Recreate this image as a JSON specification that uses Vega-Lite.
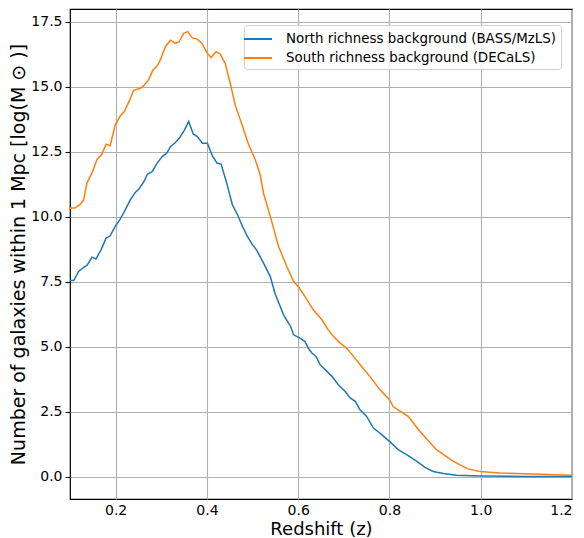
{
  "$schema": "https://vega.github.io/schema/vega-lite/v6.json",
  "autosize": "none",
  "width": 502,
  "height": 490,
  "padding": {"left": 70, "top": 9, "right": 12, "bottom": 39},
  "config": {
    "font": "DejaVu Sans",
    "view": {"stroke": "black", "strokeWidth": 1.2},
    "axis": {
      "grid": true,
      "gridColor": "#b0b0b0",
      "gridWidth": 1.1,
      "domain": false,
      "tickColor": "black",
      "tickSize": 5,
      "tickWidth": 1.1,
      "labelFontSize": 14,
      "labelColor": "black",
      "titleFontSize": 18,
      "titleFontWeight": "normal",
      "titleColor": "black",
      "labelPadding": 3
    }
  },
  "data": {
    "values": [
      {"series": "North richness background (BASS/MzLS)", "z": 0.100, "n": 7.55},
      {"series": "North richness background (BASS/MzLS)", "z": 0.108, "n": 7.55},
      {"series": "North richness background (BASS/MzLS)", "z": 0.119, "n": 7.90},
      {"series": "North richness background (BASS/MzLS)", "z": 0.130, "n": 8.06},
      {"series": "North richness background (BASS/MzLS)", "z": 0.138, "n": 8.15},
      {"series": "North richness background (BASS/MzLS)", "z": 0.148, "n": 8.45},
      {"series": "North richness background (BASS/MzLS)", "z": 0.157, "n": 8.38},
      {"series": "North richness background (BASS/MzLS)", "z": 0.168, "n": 8.73},
      {"series": "North richness background (BASS/MzLS)", "z": 0.179, "n": 9.18},
      {"series": "North richness background (BASS/MzLS)", "z": 0.188, "n": 9.27},
      {"series": "North richness background (BASS/MzLS)", "z": 0.199, "n": 9.63},
      {"series": "North richness background (BASS/MzLS)", "z": 0.210, "n": 9.91},
      {"series": "North richness background (BASS/MzLS)", "z": 0.221, "n": 10.27},
      {"series": "North richness background (BASS/MzLS)", "z": 0.232, "n": 10.65},
      {"series": "North richness background (BASS/MzLS)", "z": 0.243, "n": 10.94},
      {"series": "North richness background (BASS/MzLS)", "z": 0.251, "n": 11.07},
      {"series": "North richness background (BASS/MzLS)", "z": 0.262, "n": 11.36},
      {"series": "North richness background (BASS/MzLS)", "z": 0.270, "n": 11.65},
      {"series": "North richness background (BASS/MzLS)", "z": 0.280, "n": 11.74},
      {"series": "North richness background (BASS/MzLS)", "z": 0.291, "n": 12.07},
      {"series": "North richness background (BASS/MzLS)", "z": 0.302, "n": 12.32},
      {"series": "North richness background (BASS/MzLS)", "z": 0.312, "n": 12.45},
      {"series": "North richness background (BASS/MzLS)", "z": 0.320, "n": 12.70},
      {"series": "North richness background (BASS/MzLS)", "z": 0.331, "n": 12.86},
      {"series": "North richness background (BASS/MzLS)", "z": 0.341, "n": 13.06},
      {"series": "North richness background (BASS/MzLS)", "z": 0.351, "n": 13.35},
      {"series": "North richness background (BASS/MzLS)", "z": 0.360, "n": 13.67},
      {"series": "North richness background (BASS/MzLS)", "z": 0.370, "n": 13.19},
      {"series": "North richness background (BASS/MzLS)", "z": 0.379, "n": 13.09},
      {"series": "North richness background (BASS/MzLS)", "z": 0.390, "n": 12.83},
      {"series": "North richness background (BASS/MzLS)", "z": 0.401, "n": 12.83},
      {"series": "North richness background (BASS/MzLS)", "z": 0.412, "n": 12.35},
      {"series": "North richness background (BASS/MzLS)", "z": 0.422, "n": 12.07},
      {"series": "North richness background (BASS/MzLS)", "z": 0.431, "n": 12.03},
      {"series": "North richness background (BASS/MzLS)", "z": 0.441, "n": 11.45},
      {"series": "North richness background (BASS/MzLS)", "z": 0.456, "n": 10.46},
      {"series": "North richness background (BASS/MzLS)", "z": 0.467, "n": 10.08},
      {"series": "North richness background (BASS/MzLS)", "z": 0.478, "n": 9.63},
      {"series": "North richness background (BASS/MzLS)", "z": 0.489, "n": 9.24},
      {"series": "North richness background (BASS/MzLS)", "z": 0.500, "n": 8.92},
      {"series": "North richness background (BASS/MzLS)", "z": 0.509, "n": 8.72},
      {"series": "North richness background (BASS/MzLS)", "z": 0.524, "n": 8.22},
      {"series": "North richness background (BASS/MzLS)", "z": 0.539, "n": 7.70},
      {"series": "North richness background (BASS/MzLS)", "z": 0.549, "n": 7.06},
      {"series": "North richness background (BASS/MzLS)", "z": 0.568, "n": 6.23},
      {"series": "North richness background (BASS/MzLS)", "z": 0.579, "n": 5.91},
      {"series": "North richness background (BASS/MzLS)", "z": 0.583, "n": 5.80},
      {"series": "North richness background (BASS/MzLS)", "z": 0.590, "n": 5.46},
      {"series": "North richness background (BASS/MzLS)", "z": 0.604, "n": 5.33},
      {"series": "North richness background (BASS/MzLS)", "z": 0.615, "n": 5.20},
      {"series": "North richness background (BASS/MzLS)", "z": 0.622, "n": 4.95},
      {"series": "North richness background (BASS/MzLS)", "z": 0.630, "n": 4.76},
      {"series": "North richness background (BASS/MzLS)", "z": 0.639, "n": 4.63},
      {"series": "North richness background (BASS/MzLS)", "z": 0.648, "n": 4.31},
      {"series": "North richness background (BASS/MzLS)", "z": 0.659, "n": 4.12},
      {"series": "North richness background (BASS/MzLS)", "z": 0.674, "n": 3.86},
      {"series": "North richness background (BASS/MzLS)", "z": 0.688, "n": 3.54},
      {"series": "North richness background (BASS/MzLS)", "z": 0.703, "n": 3.28},
      {"series": "North richness background (BASS/MzLS)", "z": 0.714, "n": 3.03},
      {"series": "North richness background (BASS/MzLS)", "z": 0.725, "n": 2.90},
      {"series": "North richness background (BASS/MzLS)", "z": 0.735, "n": 2.58},
      {"series": "North richness background (BASS/MzLS)", "z": 0.750, "n": 2.32},
      {"series": "North richness background (BASS/MzLS)", "z": 0.765, "n": 1.87},
      {"series": "North richness background (BASS/MzLS)", "z": 0.783, "n": 1.62},
      {"series": "North richness background (BASS/MzLS)", "z": 0.800, "n": 1.36},
      {"series": "North richness background (BASS/MzLS)", "z": 0.819, "n": 1.04},
      {"series": "North richness background (BASS/MzLS)", "z": 0.841, "n": 0.81},
      {"series": "North richness background (BASS/MzLS)", "z": 0.860, "n": 0.59},
      {"series": "North richness background (BASS/MzLS)", "z": 0.878, "n": 0.36},
      {"series": "North richness background (BASS/MzLS)", "z": 0.896, "n": 0.20},
      {"series": "North richness background (BASS/MzLS)", "z": 0.918, "n": 0.12},
      {"series": "North richness background (BASS/MzLS)", "z": 0.947, "n": 0.05},
      {"series": "North richness background (BASS/MzLS)", "z": 0.998, "n": 0.03},
      {"series": "North richness background (BASS/MzLS)", "z": 1.100, "n": 0.01},
      {"series": "North richness background (BASS/MzLS)", "z": 1.200, "n": 0.01},
      {"series": "South richness background (DECaLS)", "z": 0.100, "n": 10.33},
      {"series": "South richness background (DECaLS)", "z": 0.112, "n": 10.35},
      {"series": "South richness background (DECaLS)", "z": 0.123, "n": 10.50},
      {"series": "South richness background (DECaLS)", "z": 0.130, "n": 10.65},
      {"series": "South richness background (DECaLS)", "z": 0.137, "n": 11.30},
      {"series": "South richness background (DECaLS)", "z": 0.148, "n": 11.68},
      {"series": "South richness background (DECaLS)", "z": 0.159, "n": 12.20},
      {"series": "South richness background (DECaLS)", "z": 0.170, "n": 12.42},
      {"series": "South richness background (DECaLS)", "z": 0.179, "n": 12.80},
      {"series": "South richness background (DECaLS)", "z": 0.188, "n": 12.74},
      {"series": "South richness background (DECaLS)", "z": 0.199, "n": 13.54},
      {"series": "South richness background (DECaLS)", "z": 0.210, "n": 13.88},
      {"series": "South richness background (DECaLS)", "z": 0.219, "n": 14.05},
      {"series": "South richness background (DECaLS)", "z": 0.231, "n": 14.50},
      {"series": "South richness background (DECaLS)", "z": 0.239, "n": 14.86},
      {"series": "South richness background (DECaLS)", "z": 0.254, "n": 14.95},
      {"series": "South richness background (DECaLS)", "z": 0.261, "n": 15.04},
      {"series": "South richness background (DECaLS)", "z": 0.272, "n": 15.27},
      {"series": "South richness background (DECaLS)", "z": 0.282, "n": 15.65},
      {"series": "South richness background (DECaLS)", "z": 0.291, "n": 15.81},
      {"series": "South richness background (DECaLS)", "z": 0.298, "n": 16.04},
      {"series": "South richness background (DECaLS)", "z": 0.309, "n": 16.55},
      {"series": "South richness background (DECaLS)", "z": 0.320, "n": 16.80},
      {"series": "South richness background (DECaLS)", "z": 0.331, "n": 16.68},
      {"series": "South richness background (DECaLS)", "z": 0.339, "n": 16.74},
      {"series": "South richness background (DECaLS)", "z": 0.349, "n": 17.06},
      {"series": "South richness background (DECaLS)", "z": 0.358, "n": 17.13},
      {"series": "South richness background (DECaLS)", "z": 0.369, "n": 16.87},
      {"series": "South richness background (DECaLS)", "z": 0.378, "n": 16.85},
      {"series": "South richness background (DECaLS)", "z": 0.389, "n": 16.68},
      {"series": "South richness background (DECaLS)", "z": 0.400, "n": 16.32},
      {"series": "South richness background (DECaLS)", "z": 0.409, "n": 16.13},
      {"series": "South richness background (DECaLS)", "z": 0.420, "n": 16.36},
      {"series": "South richness background (DECaLS)", "z": 0.429, "n": 16.27},
      {"series": "South richness background (DECaLS)", "z": 0.440, "n": 15.91},
      {"series": "South richness background (DECaLS)", "z": 0.451, "n": 15.15},
      {"series": "South richness background (DECaLS)", "z": 0.462, "n": 14.30},
      {"series": "South richness background (DECaLS)", "z": 0.477, "n": 13.54},
      {"series": "South richness background (DECaLS)", "z": 0.491, "n": 12.80},
      {"series": "South richness background (DECaLS)", "z": 0.506, "n": 12.20},
      {"series": "South richness background (DECaLS)", "z": 0.517, "n": 11.60},
      {"series": "South richness background (DECaLS)", "z": 0.524, "n": 10.91},
      {"series": "South richness background (DECaLS)", "z": 0.539, "n": 10.01},
      {"series": "South richness background (DECaLS)", "z": 0.557, "n": 8.86},
      {"series": "South richness background (DECaLS)", "z": 0.575, "n": 8.09},
      {"series": "South richness background (DECaLS)", "z": 0.590, "n": 7.51},
      {"series": "South richness background (DECaLS)", "z": 0.600, "n": 7.32},
      {"series": "South richness background (DECaLS)", "z": 0.615, "n": 6.93},
      {"series": "South richness background (DECaLS)", "z": 0.633, "n": 6.42},
      {"series": "South richness background (DECaLS)", "z": 0.652, "n": 6.04},
      {"series": "South richness background (DECaLS)", "z": 0.666, "n": 5.65},
      {"series": "South richness background (DECaLS)", "z": 0.677, "n": 5.40},
      {"series": "South richness background (DECaLS)", "z": 0.692, "n": 5.14},
      {"series": "South richness background (DECaLS)", "z": 0.706, "n": 4.95},
      {"series": "South richness background (DECaLS)", "z": 0.721, "n": 4.63},
      {"series": "South richness background (DECaLS)", "z": 0.739, "n": 4.24},
      {"series": "South richness background (DECaLS)", "z": 0.757, "n": 3.86},
      {"series": "South richness background (DECaLS)", "z": 0.779, "n": 3.35},
      {"series": "South richness background (DECaLS)", "z": 0.800, "n": 2.96},
      {"series": "South richness background (DECaLS)", "z": 0.808, "n": 2.70},
      {"series": "South richness background (DECaLS)", "z": 0.841, "n": 2.32},
      {"series": "South richness background (DECaLS)", "z": 0.867, "n": 1.74},
      {"series": "South richness background (DECaLS)", "z": 0.903, "n": 1.04},
      {"series": "South richness background (DECaLS)", "z": 0.940, "n": 0.59},
      {"series": "South richness background (DECaLS)", "z": 0.972, "n": 0.30},
      {"series": "South richness background (DECaLS)", "z": 0.998, "n": 0.20},
      {"series": "South richness background (DECaLS)", "z": 1.042, "n": 0.14},
      {"series": "South richness background (DECaLS)", "z": 1.115, "n": 0.10},
      {"series": "South richness background (DECaLS)", "z": 1.196, "n": 0.05},
      {"series": "South richness background (DECaLS)", "z": 1.200, "n": 0.05}
    ]
  },
  "mark": {"type": "line", "strokeWidth": 1.5, "clip": true},
  "encoding": {
    "x": {
      "field": "z",
      "type": "quantitative",
      "scale": {"domain": [0.1, 1.2], "nice": false, "zero": false},
      "axis": {"title": "Redshift (z)", "values": [0.2, 0.4, 0.6, 0.8, 1.0, 1.2], "format": ".1f", "ticks": false, "labelPadding": 4, "titlePadding": 3}
    },
    "y": {
      "field": "n",
      "type": "quantitative",
      "scale": {"domain": [-0.86, 18.0], "nice": false, "zero": false},
      "axis": {"title": "Number of galaxies within 1 Mpc [log(M ⊙ )]", "titleFontSize": 19, "values": [0, 2.5, 5, 7.5, 10, 12.5, 15, 17.5], "format": ".1f", "titlePadding": 2}
    },
    "color": {
      "field": "series",
      "type": "nominal",
      "scale": {"domain": ["North richness background (BASS/MzLS)", "South richness background (DECaLS)"], "range": ["#1f77b4", "#ff7f0e"]},
      "legend": {
        "title": null,
        "orient": "none",
        "legendX": 174,
        "legendY": 16,
        "symbolType": "M-1.556,0H1.556",
        "symbolSize": 324,
        "symbolStrokeWidth": 2,
        "labelFontSize": 13.4,
        "labelLimit": 0,
        "labelColor": "black",
        "labelOffset": 18,
        "rowPadding": 2,
        "padding": 4,
        "fillColor": "rgba(255,255,255,0.8)",
        "strokeColor": "#d0d0d0",
        "cornerRadius": 3
      }
    }
  }
}
